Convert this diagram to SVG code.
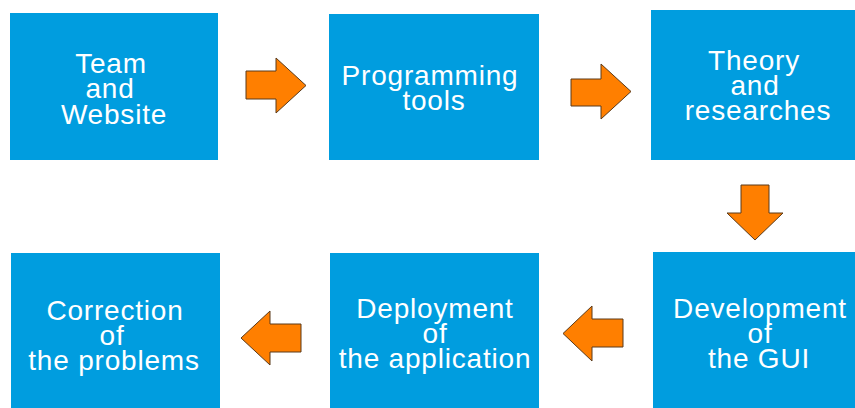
<svg xmlns="http://www.w3.org/2000/svg" width="855" height="408" viewBox="0 0 855 408">
<style>
.box{fill:#009ddf;stroke:none}
.lbl{fill:#ffffff;font-family:"Liberation Sans",Arial,sans-serif;font-size:28px;letter-spacing:0.8px;text-anchor:middle}
.arr{fill:#ff7f00;stroke:#5a3a1a;stroke-width:1;stroke-linejoin:miter}
</style>
<rect width="855" height="408" fill="#ffffff"/>
<g id="n1">
<rect class="box" x="10" y="13" width="208" height="147"/>
<text class="lbl"><tspan x="111" y="73">Team</tspan><tspan x="110" y="98">and</tspan><tspan x="114" y="124">Website</tspan></text>
</g>
<g id="n2">
<rect class="box" x="329" y="14" width="210" height="146"/>
<text class="lbl"><tspan x="430" y="85">Programming</tspan><tspan x="434" y="110">tools</tspan></text>
</g>
<g id="n3">
<rect class="box" x="651" y="10" width="204" height="150"/>
<text class="lbl"><tspan x="754" y="70">Theory</tspan><tspan x="755" y="95">and</tspan><tspan x="758" y="120">researches</tspan></text>
</g>
<g id="n4">
<rect class="box" x="653" y="252" width="202" height="156"/>
<text class="lbl"><tspan x="760" y="318">Development</tspan><tspan x="760" y="343">of</tspan><tspan x="759" y="368">the GUI</tspan></text>
</g>
<g id="n5">
<rect class="box" x="330" y="253" width="209" height="155"/>
<text class="lbl"><tspan x="435" y="318">Deployment</tspan><tspan x="435" y="343">of</tspan><tspan x="435" y="368">the application</tspan></text>
</g>
<g id="n6">
<rect class="box" x="11" y="253" width="209" height="155"/>
<text class="lbl"><tspan x="115" y="320">Correction</tspan><tspan x="112" y="345">of</tspan><tspan x="114" y="370">the problems</tspan></text>
</g>
<g id="connectors">
<polygon class="arr" points="246,71 276,71 276,58 306,85.5 276,113 276,99 246,99"/>
<polygon class="arr" points="571,79 601,79 601,64 631,91.5 601,119 601,106 571,106"/>
<polygon class="arr" points="741,185 769,185 769,213 783,213 755,240 727,213 741,213"/>
<polygon class="arr" points="623,319 592,319 592,306 563,333.5 592,361 592,347 623,347"/>
<polygon class="arr" points="301,324 270,324 270,311 241,338 270,365 270,352 301,352"/>
</g>
</svg>
